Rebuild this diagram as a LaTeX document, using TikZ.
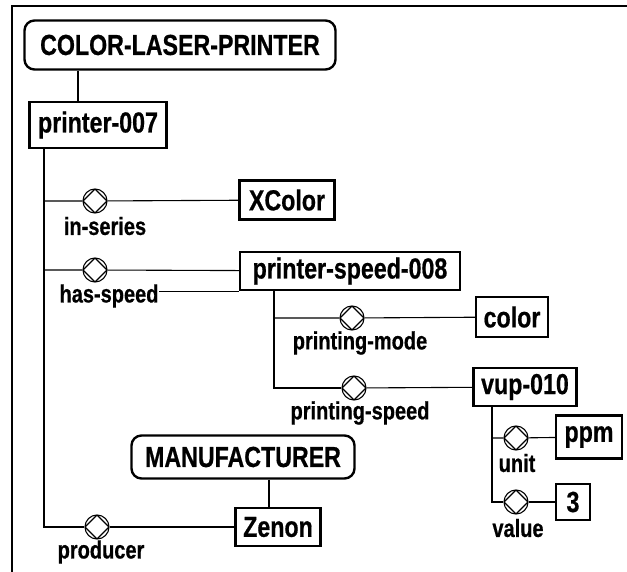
\documentclass[tikz,border=0pt]{standalone}
\usepackage{fontspec}
\setmainfont{Liberation Sans}
\newfontfamily\diafont[FakeStretch=0.8,FakeBold=0.6]{Liberation Sans}

\begin{document}
\begin{tikzpicture}[x=1pt,y=-1pt,
  concept/.style={draw, rounded corners=10pt, line width=2.4pt, font=\diafont\bfseries\fontsize{29}{29}\selectfont, inner sep=0pt},
  inst/.style={draw, line width=2.4pt, font=\diafont\bfseries\fontsize{29}{29}\selectfont, inner sep=0pt},
  rel/.style={draw, circle, line width=1.1pt, minimum size=24pt, inner sep=0pt,
    path picture={\draw[line width=1.1pt] (path picture bounding box.north) -- (path picture bounding box.east)
      -- (path picture bounding box.south) -- (path picture bounding box.west) -- cycle;}},
  lbl/.style={font=\diafont\bfseries\fontsize{25}{25}\selectfont, inner sep=0pt},
  conn/.style={line width=1.1pt}]
\useasboundingbox (0,0) rectangle (627,572);
\draw[line width=1.8pt] (12,572) -- (12,6) -- (627,6);

% concepts and instances
\node[concept, minimum width=311pt, minimum height=49pt] (clp) at (180,45) {COLOR-LASER-PRINTER};
\node[inst, minimum width=137pt, minimum height=46pt] (p007) at (98,125) {printer-007};
\node[inst, minimum width=95pt, minimum height=39pt] (xcolor) at (287,200) {XColor};
\node[inst, minimum width=220pt, minimum height=38pt] (speed) at (350,271) {printer-speed-008};
\node[inst, minimum width=72pt, minimum height=40pt] (color) at (512,317) {color};
\node[inst, minimum width=103pt, minimum height=38pt] (vup) at (525,387) {vup-010};
\node[inst, minimum width=66pt, minimum height=43pt] (ppm) at (589,437) {ppm};
\node[inst, minimum width=34pt, minimum height=36pt] (three) at (573,502) {3};
\node[concept, minimum width=223pt, minimum height=43pt] (manu) at (243,457) {MANUFACTURER};
\node[inst, minimum width=85pt, minimum height=38pt] (zenon) at (278,527) {Zenon};

% relations
\node[rel] (inser) at (95,201) {};
\node[rel] (hspd) at (95,270) {};
\node[rel] (pmode) at (352,318) {};
\node[rel] (pspd) at (354,388) {};
\node[rel] (unit) at (516,438) {};
\node[rel] (val) at (516,502) {};
\node[rel] (prod) at (97,527) {};

\node[lbl] (linser) at (105,226) {in-series};
\node[lbl] (lhspd) at (109,296) {has-speed};
\node[lbl] (lpmode) at (360,343) {printing-mode};
\node[lbl] (lpspd) at (360,413) {printing-speed};
\node[lbl] (lunit) at (517,463) {unit};
\node[lbl] (lval) at (518,528) {value};
\node[lbl] (lprod) at (101,552) {producer};

% connectors
\coordinate (c1) at (78,0);
\coordinate (t1) at (44,0);
\coordinate (t2) at (274,0);
\coordinate (t3) at (492,0);
\coordinate (t4) at (269,0);
\draw[conn] (clp.south -| c1) -- (p007.north -| c1);
\draw[conn] (p007.south -| t1) |- (prod);
\draw[conn] (inser -| t1) -- (inser) -- (xcolor);
\draw[conn] (hspd -| t1) -- (hspd) -- (speed);
\draw[conn] (prod) -- (zenon);
\draw[conn] (speed.south west) -- ++(-80,0);
\draw[conn] (speed.south -| t2) |- (pspd);
\draw[conn] (pmode -| t2) -- (pmode) -- (color);
\draw[conn] (pspd) -- (vup);
\draw[conn] (vup.south -| t3) |- (val);
\draw[conn] (unit -| t3) -- (unit) -- (ppm);
\draw[conn] (val) -- (three);
\draw[conn] (manu.south -| t4) -- (zenon.north -| t4);
\end{tikzpicture}
\end{document}
